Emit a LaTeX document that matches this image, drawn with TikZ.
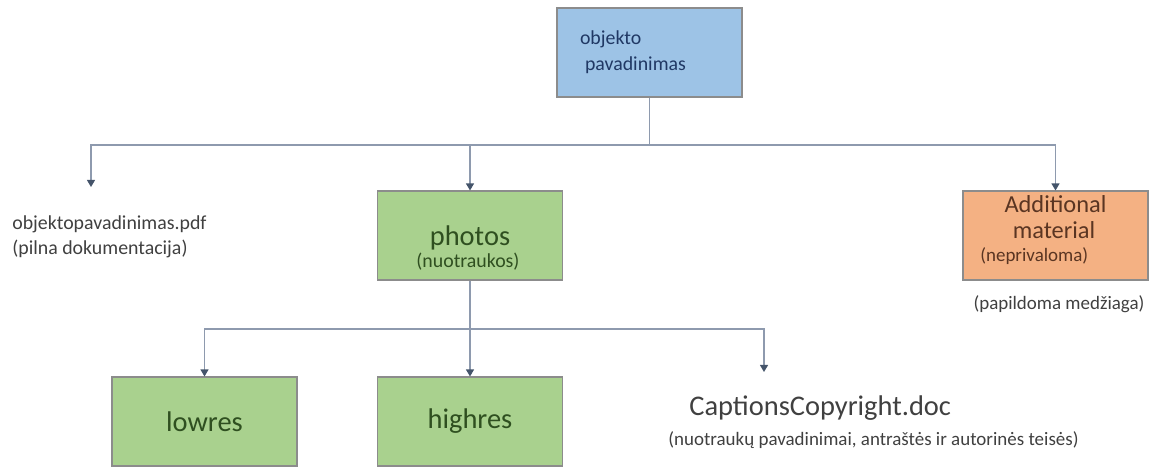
\documentclass[tikz,border=0pt]{standalone}
\usepackage{fontspec}
\setmainfont{Carlito}
\usetikzlibrary{arrows.meta}

\definecolor{rootfill}{HTML}{9DC3E6}
\definecolor{photofill}{HTML}{A9D18E}
\definecolor{extrafill}{HTML}{F4B183}
\definecolor{rootink}{HTML}{203864}
\definecolor{photoink}{HTML}{2F4F20}
\definecolor{extraink}{HTML}{5A3522}
\definecolor{plainink}{HTML}{404040}
\definecolor{linkgray}{HTML}{8E9AAE}
\definecolor{tipblue}{HTML}{44546A}

\newcommand\fsmall{\fontsize{11.3}{14.7}\selectfont}
\newcommand\fnote{\fontsize{10.8}{13}\selectfont}
\newcommand\fmid{\fontsize{13.9}{14.6}\selectfont}
\newcommand\fbig{\fontsize{16.2}{18}\selectfont}

\tikzset{
  box/.style={draw=black!45, line width=0.6pt, minimum width=3.7cm, minimum height=1.78cm, inner sep=0pt},
  link/.style={draw=linkgray, line width=0.8pt},
  tip/.style={-{Triangle[length=4pt,width=4.5pt,color=tipblue]}}
}

\begin{document}
\begin{tikzpicture}[x=0.02cm,y=-0.02cm]
\useasboundingbox (0,0) rectangle (1157,468);

% boxes
\node[box, fill=rootfill, text=rootink, text width=2.78cm, inner xsep=0.46cm, align=left, font=\fsmall] (root) at (649.5,52.5) {objekto\\\hspace*{0.1cm}pavadinimas};
\node[box, fill=photofill] (photos) at (470,235.5) {};
\node[box, fill=extrafill] (extra) at (1055.5,235.5) {};
\node[box, fill=photofill, text=photoink, font=\fbig] (lowres) at (204.5,421.5) {lowres};
\node[box, fill=photofill, text=photoink, font=\fbig] (highres) at (470,421.5) {highres};

% texts
\node[anchor=base, text=photoink, font=\fbig, inner sep=0pt] (photoslbl) at (470,245) {photos};
\node[anchor=base, text=photoink, font=\fsmall, inner sep=0pt] (photosnote) at (468,267) {(nuotraukos)};
\node[anchor=base, text=extraink, font=\fmid, inner sep=0pt] (extralbl) at (1055.5,212) {Additional};
\node[anchor=base, text=extraink, font=\fmid, inner sep=0pt] (extralbl2) at (1054,238) {material};
\node[anchor=base west, text=extraink, font=\fnote, inner sep=0pt] (extranote1) at (980,261) {(neprivaloma)};
\node[anchor=base west, text=plainink, font=\fsmall, inner sep=0pt] (pdf) at (12,229) {objektopavadinimas.pdf};
\node[anchor=base west, text=plainink, font=\fsmall, inner sep=0pt] (pdfnote) at (12,254) {(pilna dokumentacija)};
\node[anchor=base, text=plainink, font=\fnote, inner sep=0pt] (extranote) at (1059,309) {(papildoma medžiaga)};
\node[anchor=base west, text=plainink, font=\fbig, inner sep=0pt] (caption) at (689,415) {CaptionsCopyright.doc};
\node[anchor=base west, text=plainink, font=\fnote, inner sep=0pt] (captionnote) at (668,445) {(nuotraukų pavadinimai, antraštės ir autorinės teisės)};

% connectors
\coordinate (split1) at (649.5,145);
\coordinate (pdfin) at (91,187);
\coordinate (split2) at (470,329);
\coordinate (capin) at (764,372);

\draw[link] (root.south) -- (split1);
\draw[link,tip] (split1) -| (pdfin);
\draw[link,tip] (split1) -| (photos.north);
\draw[link,tip] (split1) -| (extra.north);

\draw[link] (photos.south) -- (split2);
\draw[link,tip] (split2) -| (lowres.north);
\draw[link,tip] (split2) -- (highres.north);
\draw[link,tip] (split2) -| (capin);
\end{tikzpicture}
\end{document}
